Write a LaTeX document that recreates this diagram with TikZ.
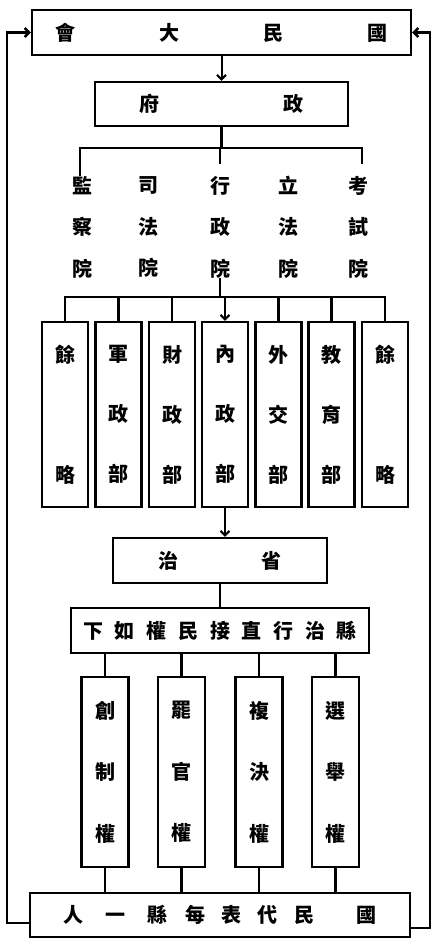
\documentclass[tikz,border=0pt]{standalone}
\usepackage{fontspec}
\newfontfamily\zh{Noto Sans CJK TC}
\usetikzlibrary{arrows.meta,positioning}

\begin{document}
\begin{tikzpicture}[x=1pt,y=-1pt,
  caixa/.style={draw,line width=2.4pt,inner sep=0pt,font=\zh\bfseries\fontsize{20pt}{20pt}\selectfont},
  yuan/.style={inner sep=0pt,align=center,font=\zh\bfseries\fontsize{20pt}{41.5pt}\selectfont},
  bu/.style={caixa,minimum width=46pt,minimum height=185pt,align=center,font=\zh\bfseries\fontsize{20pt}{60pt}\selectfont},
  quan/.style={caixa,minimum width=47pt,minimum height=190pt,align=center,font=\zh\bfseries\fontsize{20pt}{61.5pt}\selectfont},
  liga/.style={line width=2.6pt},
  seta/.style={line width=2pt,-{Straight Barb[length=4.5pt,width=9pt]}}]
\useasboundingbox (0,0) rectangle (432,938);

\node [caixa,minimum width=379pt,minimum height=45pt] (guomin) at (221.5,32.5) {\hbox to 332pt{會\hfill 大\hfill 民\hfill 國}};
\node [caixa,minimum width=253pt,minimum height=44pt] (zhengfu) at (221.5,104) {\hbox to 165pt{府\hfill 政}};
\draw [seta] (guomin) -- (zhengfu);

% cinco yuan
\foreach \x/\t [count=\i] in {82/{監\\察\\院},148/{司\\法\\院},220/{行\\政\\院},288/{立\\法\\院},358/{考\\試\\院}}
  \node [yuan] (yuan\i) at (\x,227) {\t};
\coordinate (barra) at (220,148);
\draw [liga] (zhengfu.south |- 0,126) -- (zhengfu.south |- barra);
\draw [liga] (80,164 |- yuan1.north) -- (80,164 |- barra) -- (362,164 |- barra) -- (362,164);
\draw [liga] (barra -| yuan3.north) -- (yuan3.north |- 0,164);

% ministerios
\foreach \x/\t [count=\i] in {65/{餘\\[60pt]略},118.5/{軍\\政\\部},172/{財\\政\\部},225/{內\\政\\部},278.5/{外\\交\\部},331.5/{教\\育\\部},385/{餘\\[60pt]略}}
  \node [bu] (bu\i) at (\x,414.5) {\t};
\coordinate (barra2) at (225,297);
\draw [liga] (yuan3) -- (yuan3 |- barra2);
\draw [liga] (bu1.north) -- (bu1.north |- barra2) -- (bu7.north |- barra2) -- (bu7.north);
\foreach \i in {2,3,5,6} \draw [liga] (bu\i.north) -- (bu\i.north |- barra2);
\draw [seta] (bu4.north |- barra2) -- (bu4.north);

\node [caixa,minimum width=214pt,minimum height=45pt] (shengzhi) at (220,560.5) {\hbox to 123pt{治\hfill 省}};
\draw [seta] (bu4.south) -- (bu4.south |- shengzhi.north);
\node [caixa,minimum width=298pt,minimum height=45pt] (xianzhi) at (220,630.5) {\hbox to 274pt{下\hfill 如\hfill 權\hfill 民\hfill 接\hfill 直\hfill 行\hfill 治\hfill 縣}};
\draw [liga] (shengzhi) -- (xianzhi);

% quatro direitos
\foreach \x/\t [count=\i] in {105/{創\\制\\權},181.5/{罷\\官\\權},259/{複\\決\\權},335.5/{選\\舉\\權}}
  \node [quan] (quan\i) at (\x,772) {\t};
\node [caixa,minimum width=380pt,minimum height=44pt] (daibiao) at (220,915) {人\hskip22pt 一\hskip22pt 縣\hskip18pt 每\hskip16pt 表\hskip16pt 代\hskip17pt 民\hskip42pt 國};
\foreach \i in {1,...,4} {
  \draw [liga] (quan\i.north) -- (quan\i.north |- xianzhi.south);
  \draw [liga] (quan\i.south) -- (quan\i.south |- daibiao.north);
}

\draw [seta,line width=2.4pt] ([yshift=-8pt]daibiao.west) -- ++(-22,0) |- (guomin.west); % volta
\draw [seta,line width=2.4pt] ([yshift=-13pt]daibiao.east) -- ++(19,0) |- (guomin.east);
\end{tikzpicture}
\end{document}
